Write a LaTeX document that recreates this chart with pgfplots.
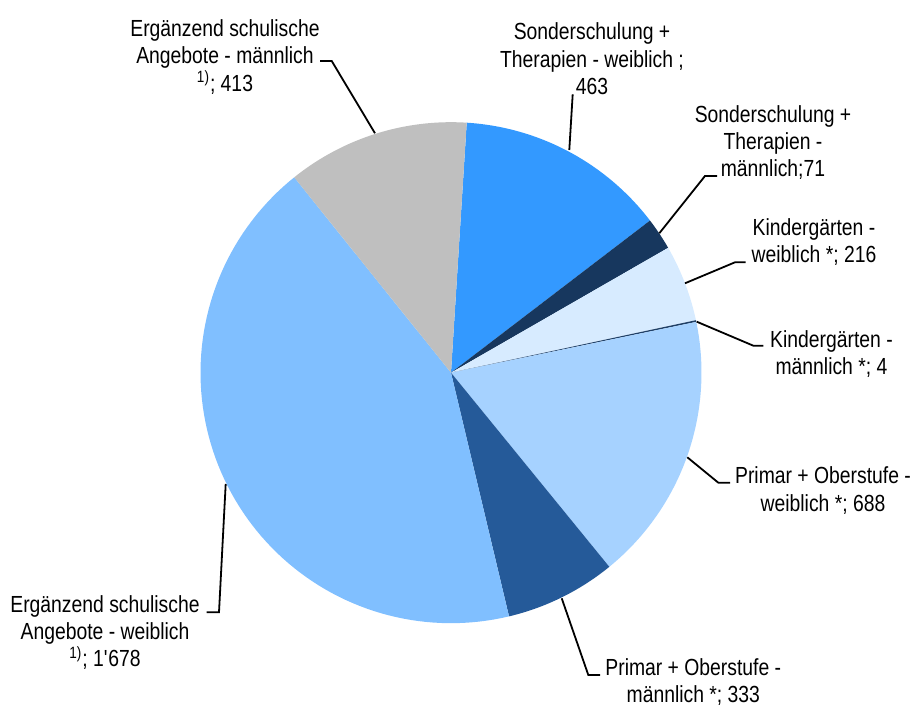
\documentclass[border=0pt]{standalone}
\usepackage{fontspec}
\setmainfont{Liberation Sans}[FakeStretch=0.83]
\usepackage{pgfplots}
\pgfplotsset{compat=1.18}
\definecolor{cGray}{HTML}{BFBFBF}
\definecolor{cBlue}{HTML}{3399FF}
\definecolor{cNavy}{HTML}{17375E}
\definecolor{cKGw}{HTML}{D7EBFF}
\definecolor{cKGm}{HTML}{1F3F66}
\definecolor{cPOw}{HTML}{A6D2FF}
\definecolor{cPOm}{HTML}{255A99}
\definecolor{cEW}{HTML}{80BFFF}
\tikzset{lbl/.style={align=center, anchor=north, inner sep=0pt,
  font=\fontsize{11.65}{13.65}\selectfont}}
% slice boundaries (degrees, counter-clockwise from east)
% centre (451,332.3), radius 250.5 in pixel units
\newcommand{\pieslice}[3]{%
  \addplot[fill=#1, draw=none, domain=#2:#3, samples=90, variable=\t]
    ({451+250.5*cos(\t)},{332.3+250.5*sin(\t)}) -- (axis cs:451,332.3) -- cycle;}
\begin{document}
\begin{tikzpicture}
\begin{axis}[
  width=458pt, height=352.5pt, scale only axis,
  xmin=0, xmax=916, ymin=0, ymax=705,
  hide axis, clip=false,
]
\path (axis cs:0,0) rectangle (axis cs:916,705);
\pieslice{cBlue}{37.4}{86.4}
\pieslice{cNavy}{29.9}{37.4}
\pieslice{cKGw}{12.1}{29.9}
\pieslice{cKGm}{11.7}{12.1}
\pieslice{cPOw}{-50.8}{11.7}
\pieslice{cPOm}{-76.6}{-50.8}
\pieslice{cEW}{128.75}{283.4}
\pieslice{cGray}{86.4}{128.75}
% leader lines
\draw[line width=0.9pt] (axis cs:320,644) -- (axis cs:331.7,644) -- (axis cs:375,571.7);
\draw[line width=0.9pt] (axis cs:572.7,610.7) -- (axis cs:569.3,555);
\draw[line width=0.9pt] (axis cs:717,529) -- (axis cs:705,529) -- (axis cs:659.3,471.7);
\draw[line width=0.9pt] (axis cs:745.7,442.7) -- (axis cs:735,442.7) -- (axis cs:685,421.7);
\draw[line width=0.9pt] (axis cs:696.7,383.3) -- (axis cs:753.3,359.3) -- (axis cs:763.3,359.3);
\draw[line width=0.9pt] (axis cs:687.3,247.7) -- (axis cs:718.3,222.3) -- (axis cs:730,222.3);
\draw[line width=0.9pt] (axis cs:561.7,106.7) -- (axis cs:588.3,30) -- (axis cs:600,30);
\draw[line width=0.9pt] (axis cs:225.7,221) -- (axis cs:219,92.7) -- (axis cs:206.7,92.7);
% labels
\node[lbl] at (axis cs:225,685.7)
  {Ergänzend schulische\\Angebote - männlich\\\textsuperscript{1)}; 413};
\node[lbl] at (axis cs:592,682.3)
  {Sonderschulung +\\Therapien - weiblich ;\\463};
\node[lbl] at (axis cs:773,600)
  {Sonderschulung +\\Therapien -\\männlich;71};
\node[lbl] at (axis cs:814,486.7)
  {Kindergärten -\\weiblich *; 216};
\node[lbl] at (axis cs:831.5,375)
  {Kindergärten -\\männlich *; 4};
\node[lbl] at (axis cs:823,238.3)
  {Primar + Oberstufe -\\weiblich *; 688};
\node[lbl] at (axis cs:693.3,46.7)
  {Primar + Oberstufe -\\männlich *; 333};
\node[lbl] at (axis cs:105,110)
  {Ergänzend schulische\\Angebote - weiblich\\\textsuperscript{1)}; 1\textquotesingle 678};
\end{axis}
\end{tikzpicture}
\end{document}
